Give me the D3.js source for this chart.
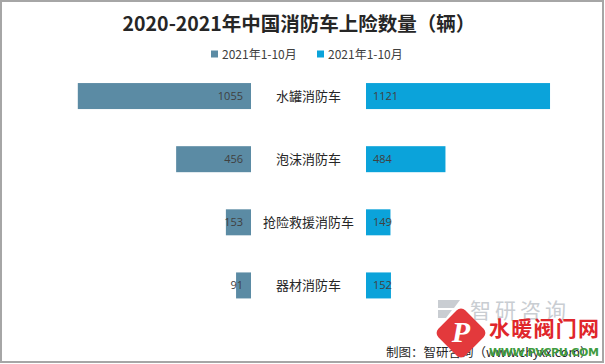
<!DOCTYPE html>
<html><head><meta charset="utf-8">
<script src="https://cdn.jsdelivr.net/npm/d3@7"></script>
<style>body{margin:0;background:#fff}svg{display:block}</style>
</head><body>
<svg id="c" width="605" height="364"></svg>
<script>
const categories = ["水罐消防车","泡沫消防车","抢险救援消防车","器材消防车"];
const seriesNames = ["2021年1-10月","2021年1-10月"];
const leftValues = [1055, 456, 153, 91];
const rightValues = [1121, 484, 149, 152];
const title = "2020-2021年中国消防车上险数量（辆）";
const source = "制图：智研咨询（www.chyxx.com）";

const colors = ["#5b8ba4", "#0ba3da"];
const svg = d3.select("#c");
const W = 605, H = 364;

// border
svg.append("rect").attr("x",1).attr("y",1).attr("width",W-3).attr("height",H-3)
  .attr("fill","#fff").attr("stroke","#a6a6a6").attr("stroke-width",2);

// watermark (faint)
svg.append("text").attr("x",470).attr("y",318).attr("font-family","Noto Sans CJK SC")
  .attr("font-size",21).attr("fill","#c9cdd2").attr("letter-spacing",4).text("智研咨询");
svg.append("path").attr("d","M438,300 h22 l-6,8 h-16z M438,310 h14 l-6,8 h-8z").attr("fill","#c9cdd2");

// title
svg.append("text").attr("x",299).attr("y",31).attr("text-anchor","middle")
  .attr("font-family","'Noto Sans CJK SC', sans-serif").attr("font-weight","bold")
  .attr("font-size",19.5).attr("fill","#262626").text(title);

// legend
const legX = [211, 317];
seriesNames.forEach((n,i)=>{
  svg.append("rect").attr("x",legX[i]).attr("y",50.5).attr("width",7).attr("height",7).attr("fill",colors[i]);
  svg.append("text").attr("x",legX[i]+11).attr("y",58.5).attr("font-family","'Noto Sans CJK SC', sans-serif")
    .attr("font-size",12).attr("fill","#404040").text(n);
});

const y = d3.scalePoint().domain(categories).range([64.5, 317]).padding(0.5);
const barH = 26;
const len = d3.scaleLinear().domain([0, 1200]).range([0, 197]);
const leftEnd = 251, rightStart = 366, mid = 308.5;

const g = svg.append("g");
categories.forEach((c,i)=>{
  const cy = y(c);
  const lw = len(leftValues[i]), rw = len(rightValues[i]);
  g.append("rect").attr("x",leftEnd-lw).attr("y",cy-barH/2).attr("width",lw).attr("height",barH).attr("fill",colors[0]);
  g.append("rect").attr("x",rightStart).attr("y",cy-barH/2).attr("width",rw).attr("height",barH).attr("fill",colors[1]);
  g.append("text").attr("x",leftEnd-8).attr("y",cy+4).attr("text-anchor","end")
    .attr("font-family","'Open Sans', sans-serif").attr("font-size",11).attr("fill","#404040").text(leftValues[i]);
  g.append("text").attr("x",rightStart+7).attr("y",cy+4)
    .attr("font-family","'Open Sans', sans-serif").attr("font-size",11).attr("fill","#404040").text(rightValues[i]);
  g.append("text").attr("x",mid).attr("y",cy+5).attr("text-anchor","middle")
    .attr("font-family","'Noto Sans CJK SC', sans-serif").attr("font-size",13).attr("fill","#262626").text(c);
});

// source
svg.append("text").attr("x",386).attr("y",357).attr("font-family","'Noto Sans CJK SC', sans-serif")
  .attr("font-size",12.5).attr("fill","#262626").text(source);

// overlay logo watermark
const logo = svg.append("g").attr("transform","translate(461,333) rotate(45)");
logo.append("rect").attr("x",-19).attr("y",-19).attr("width",38).attr("height",38).attr("rx",6).attr("fill","#e3393c");
svg.append("text").attr("x",461).attr("y",342).attr("text-anchor","middle").attr("font-family","Liberation Serif")
  .attr("font-style","italic").attr("font-weight","bold").attr("font-size",30).attr("fill","#fff").text("P");
svg.append("text").attr("x",489).attr("y",336).attr("font-family","'Noto Sans CJK SC', sans-serif")
  .attr("font-weight","bold").attr("font-size",21).attr("fill","#e0262b").attr("textLength",110).text("水暖阀门网");
svg.append("text").attr("x",489).attr("y",356).attr("font-family","'DejaVu Sans', sans-serif")
  .attr("font-weight","bold").attr("font-size",11).attr("fill","#3f9b3f").attr("textLength",110).text("WWW.PVCPU.COM");
</script>
</body></html>
